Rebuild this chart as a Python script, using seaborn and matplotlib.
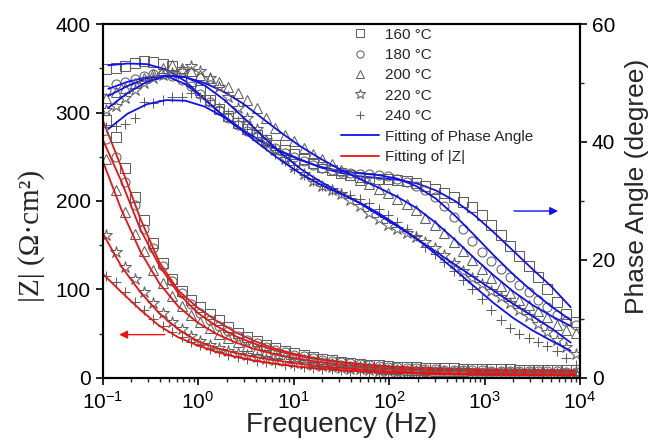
import numpy as np
import seaborn as sns
import matplotlib.pyplot as plt
from matplotlib.lines import Line2D
from matplotlib.ticker import LogLocator, NullFormatter, MultipleLocator

sns.set_theme(style="ticks")
plt.rcParams['font.family'] = ['Liberation Sans', 'DejaVu Sans']
plt.rcParams['mathtext.fontset'] = 'custom'
plt.rcParams['mathtext.rm'] = 'Liberation Sans'
plt.rcParams['mathtext.default'] = 'regular'
plt.rcParams['axes.unicode_minus'] = False

# measurement frequencies (Hz), log spaced
freq = np.logspace(np.log10(0.11), np.log10(9000), 51)
# frequencies of the fitted curves
freq_fit_p = np.logspace(np.log10(0.115), np.log10(8000), 25)
freq_fit_z = np.logspace(-1, np.log10(9000), 26)

temps = ["160 °C", "180 °C", "200 °C", "220 °C", "240 °C"]
markers = ["s", "o", "^", "*", "+"]

# |Z| data (ohm cm2)
z160 = [292, 272, 237, 205, 178, 152, 130, 112, 98, 88, 80, 72, 65, 58, 51, 46.5, 42, 37, 33.5, 30.5,
        28, 25.5, 23.7, 22, 20.2, 18.6, 17.3, 16.2, 15.2, 14.3, 13.5, 12.9, 12.3, 11.9, 11.6, 11.3, 11.0,
        10.8, 10.6, 10.4, 10.2, 10.0, 9.9, 9.8, 9.6, 9.5, 9.4, 9.3, 9.2, 9.1, 9.0]
z180 = [270, 250, 222, 195, 168, 147, 127, 110, 96, 84, 74, 66, 59, 53, 47.5, 43, 39, 35, 32, 29,
        26.5, 24.3, 22.4, 20.7, 19.2, 17.8, 16.5, 15.3, 14.3, 13.4, 12.6, 11.9, 11.3, 10.8, 10.3, 9.9, 9.5,
        9.2, 8.9, 8.7, 8.5, 8.3, 8.1, 7.9, 7.8, 7.7, 7.6, 7.5, 7.4, 7.3, 7.2]
z200 = [248, 212, 188, 163, 143, 122, 107, 93, 81, 71, 63, 56, 50, 45, 40.5, 36.5, 33, 30, 27.3, 25,
        23, 21.1, 19.4, 17.9, 16.5, 15.2, 14.1, 13.1, 12.2, 11.4, 10.7, 10.1, 9.6, 9.1, 8.7, 8.3, 8.0,
        7.7, 7.4, 7.2, 7.0, 6.8, 6.6, 6.5, 6.4, 6.3, 6.2, 6.1, 6.0, 5.9, 5.8]
z220 = [162, 142, 125, 112, 97, 85, 73, 63, 55, 48, 42, 37, 33.5, 31, 28.5, 26, 24, 22, 20.3, 18.8,
        17.4, 16, 14.7, 13.5, 12.4, 11.4, 10.5, 9.7, 9.0, 8.4, 7.8, 7.3, 6.9, 6.5, 6.2, 5.9, 5.6,
        5.4, 5.2, 5.0, 4.9, 4.8, 4.7, 4.6, 4.5, 4.5, 4.4, 4.4, 4.3, 4.3, 4.2]
z240 = [115, 108, 97, 86, 77, 67, 59, 52, 46, 41, 37, 33, 29.5, 26.5, 24, 21.7, 19.7, 18, 16.4, 15,
        13.7, 12.6, 11.5, 10.6, 9.7, 9.0, 8.3, 7.7, 7.1, 6.6, 6.2, 5.8, 5.4, 5.1, 4.8, 4.6, 4.4,
        4.2, 4.0, 3.9, 3.8, 3.7, 3.6, 3.5, 3.4, 3.4, 3.3, 3.3, 3.2, 3.2, 3.1]

# phase angle data (degree)
p160 = [52.4, 52.6, 52.8, 53.4, 53.7, 53.6, 53.3, 52.8, 51.8, 50.4, 48.8, 47.2, 45.6, 44.4, 43.3, 42.2, 41.2,
        40.3, 39.5, 38.7, 38.0, 37.2, 36.5, 35.8, 35.2, 34.7, 34.4, 34.1, 33.9, 33.8, 33.7, 33.6, 33.4,
        33.0, 32.5, 32.0, 31.4, 30.7, 29.9, 29.0, 27.6, 26.0, 24.2, 22.4, 20.6, 18.9, 17.1, 15.0, 12.8, 10.9, 9.5]
p180 = [48.8, 49.8, 50.2, 50.6, 51.2, 51.5, 51.5, 51.2, 50.5, 49.5, 48.2, 46.8, 45.4, 44.1, 42.9, 41.8, 40.8,
        39.9, 39.0, 38.2, 37.4, 36.7, 36.1, 35.6, 35.2, 34.9, 34.7, 34.6, 34.5, 34.4, 34.2, 33.8, 33.3,
        32.6, 31.8, 30.6, 29.2, 27.3, 25.2, 23.2, 21.4, 19.9, 18.5, 17.1, 15.8, 14.6, 13.3, 12.0, 10.7, 9.7, 9.0]
p200 = [47.4, 48.4, 49.2, 50.0, 50.8, 51.6, 52.6, 53.0, 52.6, 52.0, 51.4, 50.8, 50.2, 49.3, 48.3, 47.2, 45.7,
        44.0, 42.4, 41.2, 40.1, 39.0, 38.0, 37.1, 36.2, 35.3, 34.4, 33.6, 32.8, 32.1, 31.3, 30.4, 29.5,
        28.4, 27.2, 25.9, 24.5, 23.0, 21.5, 20.0, 18.5, 17.0, 15.6, 14.4, 13.3, 12.3, 11.4, 10.4, 9.0, 8.2, 7.6]
p220 = [45.5, 46.1, 47.4, 48.8, 50.0, 50.8, 51.3, 51.7, 52.0, 52.8, 52.0, 50.8, 49.3, 47.6, 45.8, 44.0, 42.2,
        40.4, 38.7, 37.1, 35.7, 34.5, 33.4, 32.6, 31.9, 31.2, 30.2, 29.1, 28.0, 26.9, 26.0, 25.3, 24.6,
        23.9, 23.0, 22.0, 20.8, 19.5, 18.2, 17.0, 15.9, 14.8, 13.8, 12.7, 11.6, 10.5, 9.2, 7.8, 6.4, 5.2, 4.0]
p240 = [42.5, 42.7, 43.0, 44.0, 46.8, 46.6, 47.1, 47.6, 47.6, 48.3, 47.6, 47.1, 46.0, 44.9, 43.6, 42.2, 40.8,
        39.4, 38.0, 36.7, 35.5, 34.4, 33.4, 32.6, 31.9, 31.3, 31.0, 30.4, 29.6, 28.6, 27.6, 26.5, 25.3,
        24.0, 22.2, 21.0, 19.6, 18.2, 16.6, 15.0, 13.4, 11.6, 9.9, 8.5, 7.4, 6.7, 6.1, 5.5, 4.6, 3.4, 2.2]

# fitted phase angle
pf160 = [53.0, 53.3, 53.2, 52.3, 50.3, 47.3, 44.3, 41.9, 40.0, 38.4, 37.0, 35.7, 34.8, 34.2, 33.9, 33.6,
         33.0, 31.8, 30.0, 27.6, 24.7, 21.6, 18.5, 15.5, 12.0]
pf180 = [49.0, 50.2, 51.0, 51.2, 49.8, 47.2, 44.4, 42.0, 40.0, 38.3, 36.9, 35.8, 35.1, 34.7, 34.4, 33.8,
         32.5, 30.4, 27.5, 24.2, 20.8, 17.6, 14.7, 12.1, 9.8]
pf200 = [47.8, 49.5, 50.8, 51.3, 51.0, 50.0, 48.5, 46.5, 44.0, 41.5, 39.2, 37.2, 35.4, 33.8, 32.3, 30.7,
         28.8, 26.3, 23.4, 20.3, 17.4, 14.7, 12.4, 10.5, 8.8]
pf220 = [45.8, 48.3, 50.2, 51.2, 51.0, 49.6, 47.2, 44.2, 41.0, 38.0, 35.4, 33.3, 31.5, 29.7, 27.7, 25.7,
         23.6, 21.4, 19.2, 17.0, 14.8, 12.6, 10.5, 8.4, 6.0]
pf240 = [42.2, 44.8, 46.4, 47.1, 47.0, 46.0, 44.2, 41.8, 39.2, 36.8, 34.6, 32.8, 31.3, 29.8, 28.0, 25.9,
         23.6, 21.0, 18.3, 15.5, 12.7, 10.2, 8.1, 6.3, 4.6]

# fitted |Z|
zf160 = [292, 238, 180, 131, 99, 80, 65, 52, 42, 34, 28, 23.5, 20, 17.3, 15.2, 13.5, 12.3, 11.5, 10.9,
         10.4, 10.0, 9.7, 9.4, 9.2, 9.0, 8.8]
zf180 = [270, 222, 168, 127, 96, 74, 59, 47.5, 39, 32, 26.5, 22.4, 19.2, 16.5, 14.3, 12.6, 11.3, 10.3,
         9.5, 8.9, 8.5, 8.1, 7.8, 7.6, 7.4, 7.2]
zf200 = [246, 190, 143, 107, 81, 63, 50, 40.5, 33, 27.3, 23, 19.4, 16.5, 14.1, 12.2, 10.7, 9.6, 8.7,
         8.0, 7.4, 7.0, 6.6, 6.4, 6.2, 6.0, 5.8]
zf220 = [164, 126, 97, 73, 55, 42, 34, 28.5, 24, 20.3, 17.4, 14.7, 12.4, 10.5, 9.0, 7.8, 6.9, 6.2,
         5.6, 5.2, 4.9, 4.7, 4.5, 4.4, 4.3, 4.2]
zf240 = [118, 97, 77, 59, 46, 37, 29.5, 24, 19.7, 16.4, 13.7, 11.5, 9.7, 8.3, 7.1, 6.2, 5.4, 4.8,
         4.4, 4.0, 3.8, 3.6, 3.4, 3.3, 3.2, 3.1]

z_data = [z160, z180, z200, z220, z240]
p_data = [p160, p180, p200, p220, p240]
z_fits = [zf160, zf180, zf200, zf220, zf240]
p_fits = [pf160, pf180, pf200, pf220, pf240]

gray = "#606060"
blue = "#1010f0"
red = "#f01010"

fig = plt.figure(figsize=(6.55, 4.42), dpi=100)
ax = fig.add_axes([0.1565, 0.1448, 0.729, 0.8009])
ax2 = ax.twinx()

sizes = [6.5, 6.5, 7, 9, 7.5]
for m, ms, zd, pd_, zf, pf in zip(markers, sizes, z_data, p_data, z_fits, p_fits):
    sns.lineplot(x=freq, y=zd, ax=ax, marker=m, linestyle="", mfc="none", mec=gray, color=gray,
                 ms=ms, mew=0.75, sort=False)
    sns.lineplot(x=freq, y=pd_, ax=ax2, marker=m, linestyle="", mfc="none", mec=gray, color=gray,
                 ms=ms, mew=0.75, sort=False)
    sns.lineplot(x=freq_fit_z, y=zf, ax=ax, color=red, lw=1.3, sort=False)
    sns.lineplot(x=freq_fit_p, y=pf, ax=ax2, color=blue, lw=1.3, sort=False)

ax.set_xscale("log")
ax.set_xlim(0.1, 1e4)
ax.set_ylim(0, 400)
ax2.set_ylim(0, 60)

ax.xaxis.set_major_locator(LogLocator(base=10, numticks=10))
ax.xaxis.set_minor_locator(LogLocator(base=10, subs=np.arange(2, 10), numticks=20))
ax.xaxis.set_minor_formatter(NullFormatter())
ax.yaxis.set_major_locator(MultipleLocator(100))
ax.yaxis.set_minor_locator(MultipleLocator(50))
ax2.yaxis.set_major_locator(MultipleLocator(20))
ax2.yaxis.set_minor_locator(MultipleLocator(10))

for a in (ax, ax2):
    a.tick_params(which="major", direction="out", length=5, width=1.2, labelsize=15, colors="black")
    a.tick_params(which="minor", direction="out", length=3, width=1.0)
    for s in a.spines.values():
        s.set_linewidth(1.5)
        s.set_color("black")
ax.tick_params(axis="x", which="major", pad=4)

ax.set_xlabel("Frequency (Hz)", fontsize=20, labelpad=0)
ax.set_ylabel("|Z| (Ω·cm²)", fontsize=21, family=["Liberation Serif", "DejaVu Serif"])
ax.yaxis.set_label_coords(-0.12, 0.40)
ax2.set_ylabel("Phase Angle (degree)", fontsize=19)
ax2.yaxis.set_label_coords(1.095, 0.54)

# arrows
ax.annotate("", xy=(0.14, 49), xytext=(0.48, 49),
            arrowprops=dict(arrowstyle="-|>", color=red, lw=1.0, mutation_scale=12))
ax2.annotate("", xy=(6300, 28.3), xytext=(1900, 28.3),
             arrowprops=dict(arrowstyle="-|>", color=blue, lw=1.0, mutation_scale=12))

handles = [Line2D([], [], marker=m, linestyle="", mfc="none", mec=gray, ms=s * 0.8, mew=0.75)
           for m, s in zip(markers, sizes)]
handles += [Line2D([], [], color=blue, lw=1.3), Line2D([], [], color=red, lw=1.3)]
labels = temps + ["Fitting of Phase Angle", "Fitting of |Z|"]
leg = ax2.legend(handles, labels, loc="upper left", bbox_to_anchor=(0.5, 0.99), frameon=False,
                 fontsize=11, handlelength=2.5, handletextpad=0.35, labelspacing=0.42,
                 borderpad=0, borderaxespad=0)

fig.savefig("out.png", dpi=100)
